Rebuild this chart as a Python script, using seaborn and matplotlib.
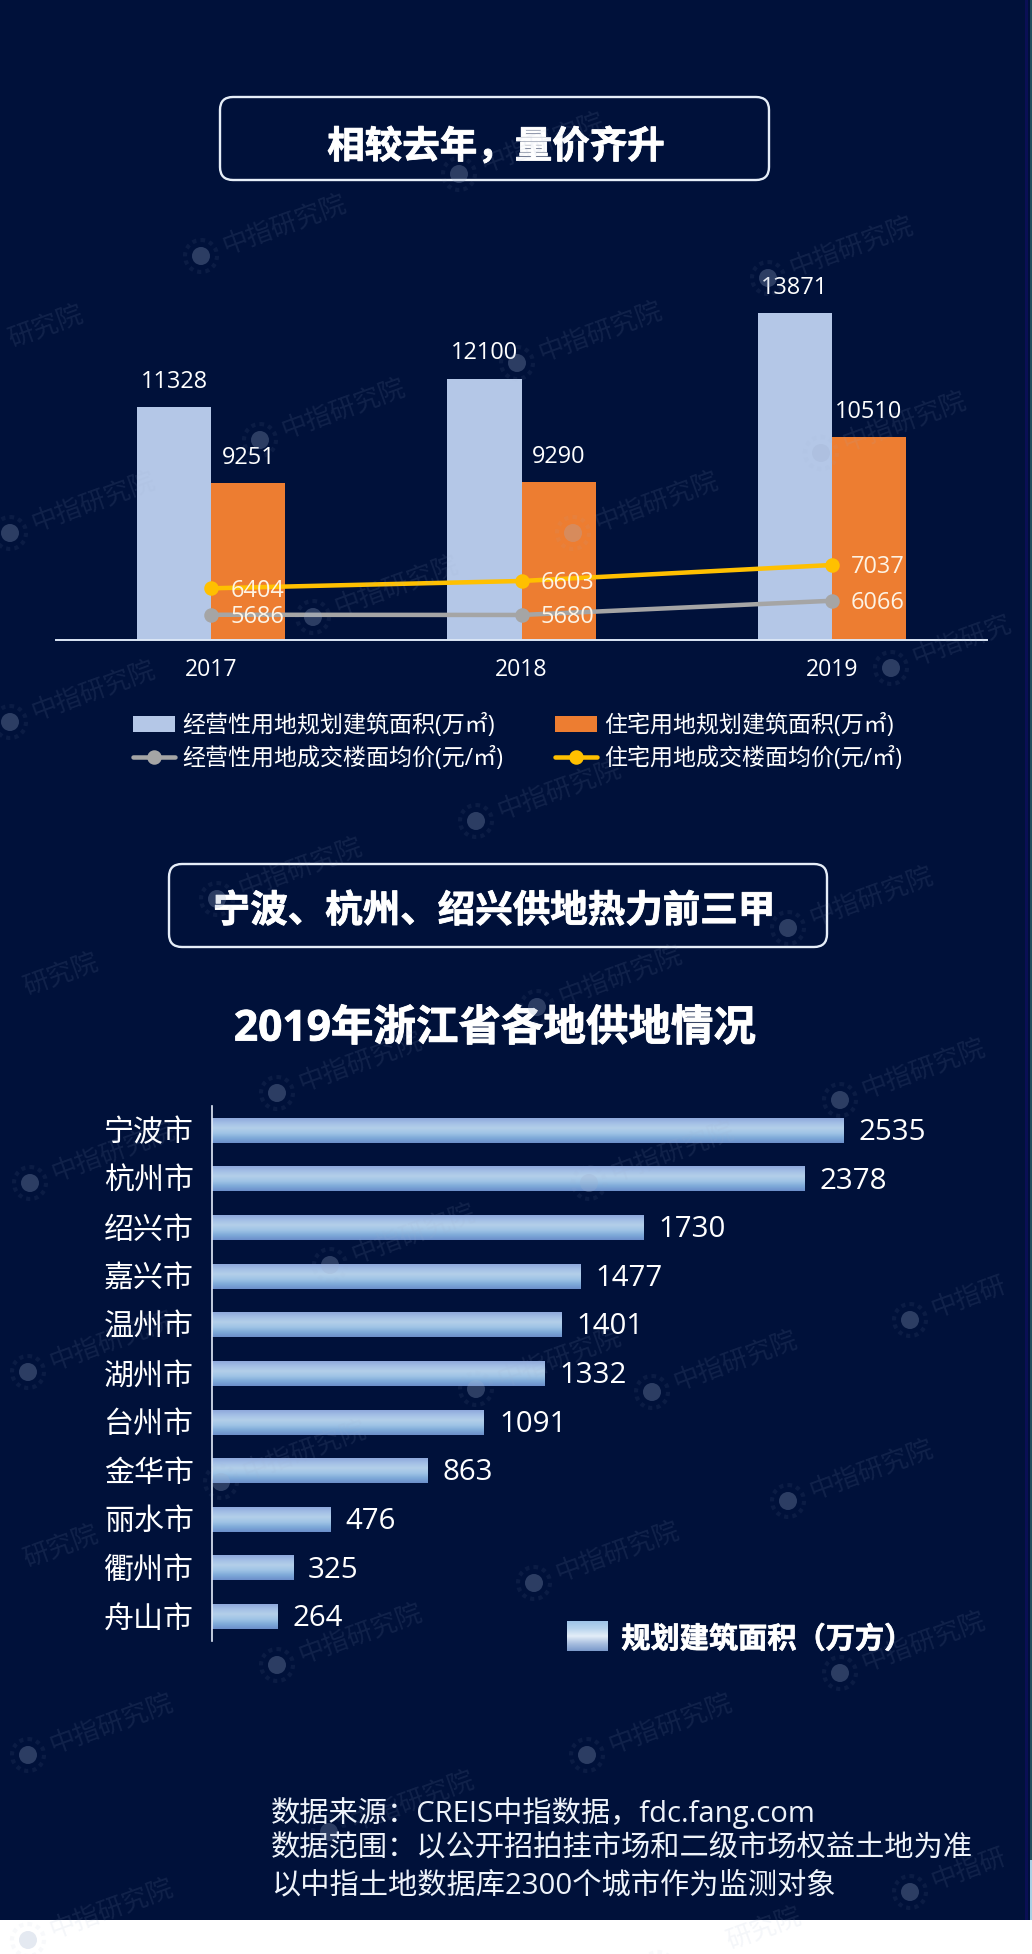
import numpy as np
import pandas as pd
import matplotlib
matplotlib.use("Agg")
import matplotlib.pyplot as plt
import matplotlib.patheffects as pe
from matplotlib.colors import LinearSegmentedColormap
from matplotlib.patches import FancyBboxPatch, Circle
import seaborn as sns

# ---- data ----
years = ["2017", "2018", "2019"]
biz_area = [11328, 12100, 13871]
res_area = [9251, 9290, 10510]
biz_price = [5686, 5680, 6066]
res_price = [6404, 6603, 7037]
biz_area_name = "经营性用地规划建筑面积(万㎡)"
res_area_name = "住宅用地规划建筑面积(万㎡)"
biz_price_name = "经营性用地成交楼面均价(元/㎡)"
res_price_name = "住宅用地成交楼面均价(元/㎡)"

cities = ["宁波市", "杭州市", "绍兴市", "嘉兴市", "温州市", "湖州市",
          "台州市", "金华市", "丽水市", "衢州市", "舟山市"]
city_area = [2535, 2378, 1730, 1477, 1401, 1332, 1091, 863, 476, 325, 264]
city_series = "规划建筑面积（万方）"

heading_a = "相较去年，量价齐升"
heading_b = "宁波、杭州、绍兴供地热力前三甲"
chart_title = "2019年浙江省各地供地情况"
source_lines = ["数据来源：CREIS中指数据，fdc.fang.com",
                "数据范围：以公开招拍挂市场和二级市场权益土地为准",
                "以中指土地数据库2300个城市作为监测对象"]
watermark = "中指研究院"

# ---- style ----
W, H = 1032, 1954
NAVY = "#00113a"
FONT = ["Open Sans", "Noto Sans CJK SC", "DejaVu Sans"]
sns.set_theme(style="white")
plt.rcParams["font.family"] = FONT
plt.rcParams["text.color"] = "white"
PX = 0.72  # points per pixel at dpi 100
HEAVY = [pe.withStroke(linewidth=0.6, foreground="white")]

fig = plt.figure(figsize=(W / 100, H / 100), dpi=100, facecolor="white")


def rect(l, t, r, b):
    return [l / W, (H - b) / H, (r - l) / W, (b - t) / H]


# page layer in pixel coordinates
page = fig.add_axes([0, 0, 1, 1], zorder=0)
page.set_xlim(0, W)
page.set_ylim(H, 0)
page.axis("off")
page.fill_between([0, W], 0, 1920, color=NAVY, lw=0)
page.fill_between([1025, 1028], 0, 1920, color="#0a0f55", lw=0)
page.fill_between([1030, W], 0, 1860, color="#24505f", lw=0)
page.fill_between([1030, W], 1860, 1920, color="#a8d0e4", lw=0)

for (l, t, r, b) in [(220, 97, 769, 180), (169, 864, 827, 947)]:
    page.add_patch(FancyBboxPatch((l + 13, t + 13), r - l - 26, b - t - 26,
                                  boxstyle="round,pad=13,rounding_size=13",
                                  fc="none", ec="#e6eef8", lw=1.7))
page.text(496, 148, heading_a, ha="center", va="center", fontsize=37.5 * PX,
          fontweight="bold", color="white", path_effects=HEAVY)
page.text(494, 912, heading_b, ha="center", va="center", fontsize=37.5 * PX,
          fontweight="bold", color="white", path_effects=HEAVY)
page.text(495, 1030, chart_title, ha="center", va="center", fontsize=42.5 * PX,
          fontweight="bold", color="white", path_effects=HEAVY)
for y, s in zip([1813, 1849, 1887], source_lines):
    page.text(271, y, s, ha="left", va="center", fontsize=29.3 * PX, color="#eef3fa")

# ---- combo chart ----
ax1 = fig.add_axes(rect(56, 235, 987, 640), zorder=2)
ax1.patch.set_alpha(0)
area_df = pd.DataFrame({
    "year": years * 2,
    "value": biz_area + res_area,
    "series": [biz_area_name] * 3 + [res_area_name] * 3,
})
sns.barplot(data=area_df, x="year", y="value", hue="series", ax=ax1,
            palette=["#b4c7e7", "#ed7d31"], width=0.478, gap=0, saturation=1,
            linewidth=0, errorbar=None)
for vals, colour, name in [(biz_price, "#a5a5a5", biz_price_name),
                           (res_price, "#ffc000", res_price_name)]:
    sns.pointplot(x=years, y=vals, color=colour, ax=ax1, label=name, errorbar=None,
                  markers="o", markersize=8, linewidth=4.5 * PX)
ax1.set_ylim(5000, 16000)
ax1.set_xlim(-0.5, 2.5)
ax1.set_xlabel("")
ax1.set_ylabel("")
ax1.set_yticks([])
ax1.tick_params(axis="x", length=0, labelsize=23 * PX, colors="white", pad=13)
for s in ["top", "left", "right"]:
    ax1.spines[s].set_visible(False)
ax1.spines["bottom"].set_color("#dbe6f6")
ax1.spines["bottom"].set_linewidth(1.4)
for cont in ax1.containers:
    ax1.bar_label(cont, fmt="%d", padding=9.5, fontsize=23.5 * PX, color="white")
for vals in (biz_price, res_price):
    for i, v in enumerate(vals):
        ax1.annotate(str(v), (i, v), xytext=(19 * PX, -1.7), textcoords="offset points",
                     ha="left", va="center", fontsize=23.5 * PX, color="#fdf3e4")
hs, ls = ax1.get_legend_handles_labels()
order = [0, 2, 1, 3]
ax1.legend([hs[i] for i in order], [ls[i] for i in order], ncols=2, frameon=False,
           loc="upper left", bbox_to_anchor=(133 / W, (H - 714) / H),
           bbox_transform=fig.transFigure, borderpad=0, borderaxespad=0,
           fontsize=23 * PX, labelcolor="white", handlelength=1.82,
           handletextpad=0.32, columnspacing=2.25, labelspacing=0.4)

# ---- horizontal bars ----
ax2 = fig.add_axes(rect(212, 1106, 972, 1641), zorder=2)
ax2.patch.set_alpha(0)
sns.barplot(x=city_area, y=cities, orient="h", ax=ax2, color="#a4c0e6", width=0.51,
            saturation=1, linewidth=0, errorbar=None, label=city_series)
xlim = (0, 760 / 0.2493)
ylim = ax2.get_ylim()
grad = LinearSegmentedColormap.from_list(
    "bar", ["#8fa9dc", "#a4c0e6", "#b3cfe9", "#a0c4e6", "#7fabd9", "#6c8fcb"])
ramp = np.linspace(0, 1, 64)[:, None]
for p in ax2.patches:
    x0, y0, w, h = p.get_x(), p.get_y(), p.get_width(), p.get_height()
    ax2.imshow(ramp, extent=(x0, x0 + w, y0 + h, y0), cmap=grad, aspect="auto",
               origin="upper", interpolation="bilinear", zorder=3)
ax2.set_xlim(*xlim)
ax2.set_ylim(*ylim)
ax2.set_xticks([])
ax2.tick_params(axis="y", length=0, labelsize=30 * PX, labelcolor="white", pad=13)
for s in ["top", "bottom", "right"]:
    ax2.spines[s].set_visible(False)
ax2.spines["left"].set_color("#e4ecfa")
ax2.spines["left"].set_linewidth(1.2)
ax2.spines["left"].set_zorder(5)
for cont in ax2.containers:
    for t in ax2.bar_label(cont, fmt="%d", padding=15 * PX, fontsize=29.5 * PX,
                           color="white", zorder=6):
        t.xyann = (t.xyann[0], -1.5)

hs2, ls2 = ax2.get_legend_handles_labels()
leg2 = ax2.legend(hs2, ls2, frameon=False, loc="center left",
                  bbox_to_anchor=(567 / W, (H - 1640) / H), bbox_transform=fig.transFigure,
                  borderpad=0, borderaxespad=0, handlelength=1.4, handleheight=1.0,
                  handletextpad=0.46, labelcolor="white",
                  prop={"size": 29.2 * PX, "weight": "bold", "family": FONT})
for t in leg2.get_texts():
    t.set_path_effects([pe.withStroke(linewidth=0.5, foreground="white")])
swatch = fig.add_axes(rect(567, 1621, 608, 1651), zorder=3)
swatch.imshow(ramp, cmap=LinearSegmentedColormap.from_list(
    "sw", ["#9ec4e8", "#b8d4ee", "#e4eef8", "#a9bfe0", "#7c9acb"]), aspect="auto",
    interpolation="bilinear")
swatch.axis("off")

# ---- watermark layer: circle centre, then the characters of the mark visible on the page ----
marks = fig.add_axes([0, 0, 1, 1], zorder=10)
marks.set_xlim(0, W)
marks.set_ylim(H, 0)
marks.axis("off")
marks.patch.set_alpha(0)
centres = [(459, 174, 0, 5), (201, 256, 0, 5), (768, 278, 0, 5), (-60, 366, 2, 5),
           (517, 363, 0, 5), (260, 440, 0, 5), (10, 533, 0, 5), (821, 453, 0, 5),
           (573, 533, 0, 5), (313, 617, 0, 5), (891, 668, 0, 4), (10, 722, 0, 5),
           (476, 821, 0, 5), (-45, 1014, 2, 5), (217, 899, 0, 5), (788, 928, 0, 5),
           (537, 1007, 0, 5), (277, 1093, 0, 5), (840, 1100, 0, 5), (30, 1183, 0, 5),
           (589, 1183, 0, 5), (330, 1265, 0, 5), (910, 1320, 0, 3), (28, 1372, 0, 5),
           (476, 1389, 0, 5), (652, 1392, 0, 5), (788, 1501, 0, 5), (221, 1482, 0, 5),
           (-45, 1586, 2, 5), (534, 1583, 0, 5), (277, 1665, 0, 5), (840, 1673, 0, 5),
           (28, 1755, 0, 5), (587, 1755, 0, 5), (329, 1832, 0, 5), (910, 1892, 0, 3),
           (28, 1940, 0, 5), (658, 1968, 2, 5)]
angle = 20
ca, sa = np.cos(np.radians(angle)), np.sin(np.radians(angle))
for (cx, cy, first, last) in centres:
    marks.add_patch(Circle((cx, cy), 9, fc="#9fb0cf", ec="none", alpha=0.28))
    marks.add_patch(Circle((cx, cy), 16, fc="none", ec="#9fb0cf", lw=3, ls=(0, (1, 1)), alpha=0.07))
    d = 24 + first * 24.5
    marks.text(cx + d * ca, cy - d * sa, watermark[first:last], rotation=angle,
               rotation_mode="anchor", ha="left", va="center", fontsize=26 * PX,
               color="#9fb0cf", alpha=0.11)

fig.savefig("out.png", dpi=100, facecolor="white")
